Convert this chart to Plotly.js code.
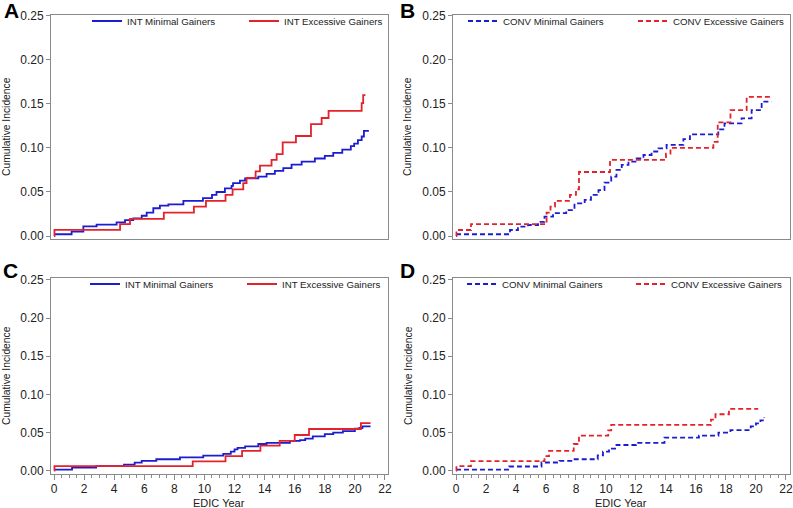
<!DOCTYPE html>
<html>
<head>
<meta charset="utf-8">
<script src="https://cdn.plot.ly/plotly-3.0.1.min.js"></script>
<style>html,body{margin:0;padding:0;background:#fff;}#chart{width:793px;height:508px;}</style>
</head>
<body>
<div id="chart"></div>
<script>
// ---- Data ----
// Panel A: INT
const aMinYears = [0, 1.17, 1.95, 2.83, 4.16, 4.72, 5.27, 5.83, 6.16, 6.6, 7.04, 7.6, 8.6, 9.9, 10.5, 10.8, 11.36, 11.8, 11.9, 12.36, 12.7, 13.58, 14.13, 14.68, 15.24, 15.79, 16.46, 17.34, 18.0, 18.56, 19.16, 19.73, 19.95, 20.2, 20.45, 20.6, 20.93];
const aMinCum   = [0.002, 0.005, 0.011, 0.013, 0.0155, 0.018, 0.020, 0.023, 0.0265, 0.0315, 0.0345, 0.036, 0.040, 0.043, 0.0466, 0.050, 0.054, 0.057, 0.060, 0.063, 0.0655, 0.0675, 0.0705, 0.074, 0.077, 0.081, 0.0845, 0.088, 0.091, 0.0945, 0.098, 0.102, 0.105, 0.109, 0.113, 0.1195, 0.1195];
const aExcYears = [0, 0.03, 4.39, 5.05, 7.3, 9.3, 10.1, 11.4, 11.87, 12.58, 12.8, 13.4, 13.69, 14.46, 14.8, 15.2, 16.08, 17.08, 17.79, 18.25, 20.45, 20.55, 20.7];
const aExcCum   = [0, 0.007, 0.0135, 0.0195, 0.0265, 0.0333, 0.040, 0.0466, 0.053, 0.060, 0.066, 0.0735, 0.080, 0.0864, 0.093, 0.1064, 0.1136, 0.127, 0.134, 0.142, 0.151, 0.160, 0.160];
// Panel B: CONV
const bMinYears = [0, 3.6, 4.13, 4.8, 5.47, 5.9, 6.47, 7.35, 7.9, 8.58, 9.0, 9.5, 9.9, 10.35, 10.7, 11.05, 11.5, 12.04, 12.5, 13.04, 13.5, 14.04, 15.16, 15.6, 17.49, 17.9, 19.04, 19.71, 20.38, 21.04];
const bMinCum   = [0.002, 0.0068, 0.0106, 0.0125, 0.016, 0.022, 0.026, 0.0295, 0.037, 0.041, 0.0466, 0.052, 0.0606, 0.0674, 0.075, 0.0807, 0.0845, 0.088, 0.092, 0.096, 0.0996, 0.1034, 0.110, 0.1155, 0.121, 0.128, 0.1337, 0.143, 0.1526, 0.1526];
const bExcYears = [0, 0.03, 1.0, 6.04, 6.3, 6.6, 7.6, 8.0, 8.2, 10.27, 14.0, 14.3, 17.16, 17.45, 18.3, 19.38, 21.1];
const bExcCum   = [0, 0.0068, 0.0136, 0.0265, 0.0333, 0.040, 0.0466, 0.053, 0.0727, 0.0864, 0.0935, 0.100, 0.107, 0.129, 0.143, 0.158, 0.158];
// Panel C: INT
const cMinYears = [0, 1.2, 2.8, 4.65, 5.36, 5.83, 6.8, 8.37, 9.92, 11.25, 11.75, 12.0, 12.2, 12.7, 13.58, 14.13, 15.68, 16.35, 16.7, 17.2, 18.0, 18.56, 19.2, 20.0, 20.3, 20.5, 21.04];
const cMinCum   = [0.0015, 0.004, 0.006, 0.008, 0.0105, 0.013, 0.015, 0.0175, 0.0197, 0.022, 0.025, 0.028, 0.030, 0.032, 0.035, 0.0365, 0.039, 0.040, 0.042, 0.045, 0.048, 0.050, 0.052, 0.055, 0.056, 0.058, 0.058];
const cExcYears = [0, 0.03, 9.22, 11.4, 12.5, 13.72, 15.0, 16.0, 16.95, 20.4, 21.04];
const cExcCum   = [0, 0.006, 0.0122, 0.0192, 0.026, 0.033, 0.039, 0.0468, 0.0547, 0.0625, 0.0625];
// Panel D: CONV
const dMinYears = [0, 3.55, 5.7, 6.9, 7.8, 9.45, 9.8, 10.2, 10.7, 12.0, 13.9, 16.2, 17.5, 18.3, 19.65, 20.0, 20.3, 20.55];
const dMinCum   = [0.0015, 0.0055, 0.0108, 0.013, 0.015, 0.020, 0.025, 0.029, 0.0337, 0.0365, 0.0433, 0.046, 0.050, 0.0533, 0.058, 0.062, 0.066, 0.070];
const dExcYears = [0, 0.03, 1.0, 5.9, 6.2, 7.85, 8.2, 10.15, 10.35, 17.0, 17.3, 18.2, 20.15];
const dExcCum   = [0, 0.006, 0.0125, 0.019, 0.026, 0.035, 0.046, 0.053, 0.060, 0.067, 0.074, 0.081, 0.081];

const seriesNames = ["INT Minimal Gainers", "INT Excessive Gainers", "CONV Minimal Gainers", "CONV Excessive Gainers"];
const yTickVals = [0, 0.05, 0.10, 0.15, 0.20, 0.25];
const yTickText = ["0.00", "0.05", "0.10", "0.15", "0.20", "0.25"];
const xTickVals = [0, 2, 4, 6, 8, 10, 12, 14, 16, 18, 20, 22];
const panelLetters = ["A", "B", "C", "D"];
const yTitle = "Cumulative Incidence";
const xTitle = "EDIC Year";

// ---- Styles ----
const BLUE = '#1c1cd0';
const RED = '#e3222c';
const TXT = '#222';
const W = 793, H = 508;
const px = v => v / W;
const py = v => 1 - v / H;

function tr(x, y, name, color, dash, xa, ya, leg) {
  return {x: x, y: y, name: name, type: 'scatter', mode: 'lines',
    line: {color: color, width: 1.8, shape: 'hv', dash: dash},
    xaxis: xa, yaxis: ya, legend: leg, hoverinfo: 'x+y'};
}
const data = [
  tr(aMinYears, aMinCum, seriesNames[0], BLUE, 'solid', 'x', 'y', 'legend'),
  tr(aExcYears, aExcCum, seriesNames[1], RED, 'solid', 'x', 'y', 'legend'),
  tr(bMinYears, bMinCum, seriesNames[2], BLUE, '5px,3px', 'x2', 'y2', 'legend2'),
  tr(bExcYears, bExcCum, seriesNames[3], RED, '5px,3px', 'x2', 'y2', 'legend2'),
  tr(cMinYears, cMinCum, seriesNames[0], BLUE, 'solid', 'x3', 'y3', 'legend3'),
  tr(cExcYears, cExcCum, seriesNames[1], RED, 'solid', 'x3', 'y3', 'legend3'),
  tr(dMinYears, dMinCum, seriesNames[2], BLUE, '5px,3px', 'x4', 'y4', 'legend4'),
  tr(dExcYears, dExcCum, seriesNames[3], RED, '5px,3px', 'x4', 'y4', 'legend4')
];

const AX = '#8a8a8a';
function xax(dom, range, anchor, labels) {
  const o = {domain: dom, range: range, anchor: anchor, showline: true, mirror: true,
    linecolor: AX, linewidth: 1, showgrid: false, zeroline: false, fixedrange: true, automargin: false};
  if (labels) {
    Object.assign(o, {tickvals: xTickVals, ticks: 'outside', ticklen: 5, tickcolor: AX,
      ticklabelstandoff: -2, tickfont: {size: 12, color: TXT},
      minor: {dtick: 0.5, ticks: 'outside', ticklen: 3, tickcolor: AX, showgrid: false}});
  } else {
    Object.assign(o, {showticklabels: false, ticks: ''});
  }
  return o;
}
function yax(dom, range, anchor) {
  return {domain: dom, range: range, anchor: anchor, tickvals: yTickVals, ticktext: yTickText,
    ticks: 'outside', ticklen: 4, tickcolor: AX, tickfont: {size: 12, color: TXT},
    showline: true, mirror: true, linecolor: AX, linewidth: 1, showgrid: false, zeroline: false, fixedrange: true, automargin: false};
}
function leg(xPx, yPx, w) {
  return {orientation: 'h', x: px(xPx), y: py(yPx), xanchor: 'left', yanchor: 'middle',
    entrywidth: w, entrywidthmode: 'pixels', bgcolor: 'rgba(0,0,0,0)', borderwidth: 0,
    font: {size: 9.7, color: TXT, family: 'Liberation Sans, Arial, sans-serif'}, itemclick: false, itemdoubleclick: false};
}

const topDom = [py(239), py(15)];
const botDom = [py(474.3), py(277.7)];
const leftDom = [px(51), px(388)];
const rightDom = [px(453), px(790)];

const annotations = [];
const letterPos = [[2, 11], [398, 11], [1, 270], [398, 270]];
panelLetters.forEach((L, i) => annotations.push({text: '<b>' + L + '</b>', xref: 'paper', yref: 'paper',
  x: px(letterPos[i][0]), y: py(letterPos[i][1]), xanchor: 'left', yanchor: 'middle', showarrow: false,
  font: {size: 21, color: '#000', family: 'Liberation Sans, Arial, sans-serif'}}));
const yTitlePos = [[6, 127], [407, 127], [6, 376], [408, 376]];
yTitlePos.forEach(p => annotations.push({text: yTitle, xref: 'paper', yref: 'paper', x: px(p[0]), y: py(p[1]),
  xanchor: 'center', yanchor: 'middle', textangle: -90, showarrow: false,
  font: {size: 10.3, color: TXT, family: 'Liberation Sans Narrow, Arial Narrow, Liberation Sans, sans-serif'}}));
[[219.5, 503], [621, 503]].forEach(p => annotations.push({text: xTitle, xref: 'paper', yref: 'paper',
  x: px(p[0]), y: py(p[1]), xanchor: 'center', yanchor: 'middle', showarrow: false,
  font: {size: 11, color: TXT, family: 'Liberation Sans, Arial, sans-serif'}}));

const layout = {
  width: W, height: H, margin: {l: 0, r: 0, t: 0, b: 0, pad: 0, autoexpand: false},
  paper_bgcolor: '#fff', plot_bgcolor: '#fff', showlegend: true,
  font: {family: 'Liberation Sans, Arial, sans-serif', color: TXT},
  xaxis: xax(leftDom, [-0.2, 22.2], 'y', false),
  yaxis: yax(topDom, [-0.0034, 0.251], 'x'),
  xaxis2: xax(rightDom, [-0.2, 22.27], 'y2', false),
  yaxis2: yax(topDom, [-0.0034, 0.251], 'x2'),
  xaxis3: xax(leftDom, [-0.2, 22.2], 'y3', true),
  yaxis3: yax(botDom, [-0.0047, 0.253], 'x3'),
  xaxis4: xax(rightDom, [-0.2, 22.27], 'y4', true),
  yaxis4: yax(botDom, [-0.0047, 0.253], 'x4'),
  legend: leg(87, 21, 112),
  legend2: leg(463, 21, 125),
  legend3: leg(85, 284, 112),
  legend4: leg(462, 284, 124),
  annotations: annotations
};

Plotly.newPlot('chart', data, layout, {displayModeBar: false, staticPlot: true});
</script>
</body>
</html>
